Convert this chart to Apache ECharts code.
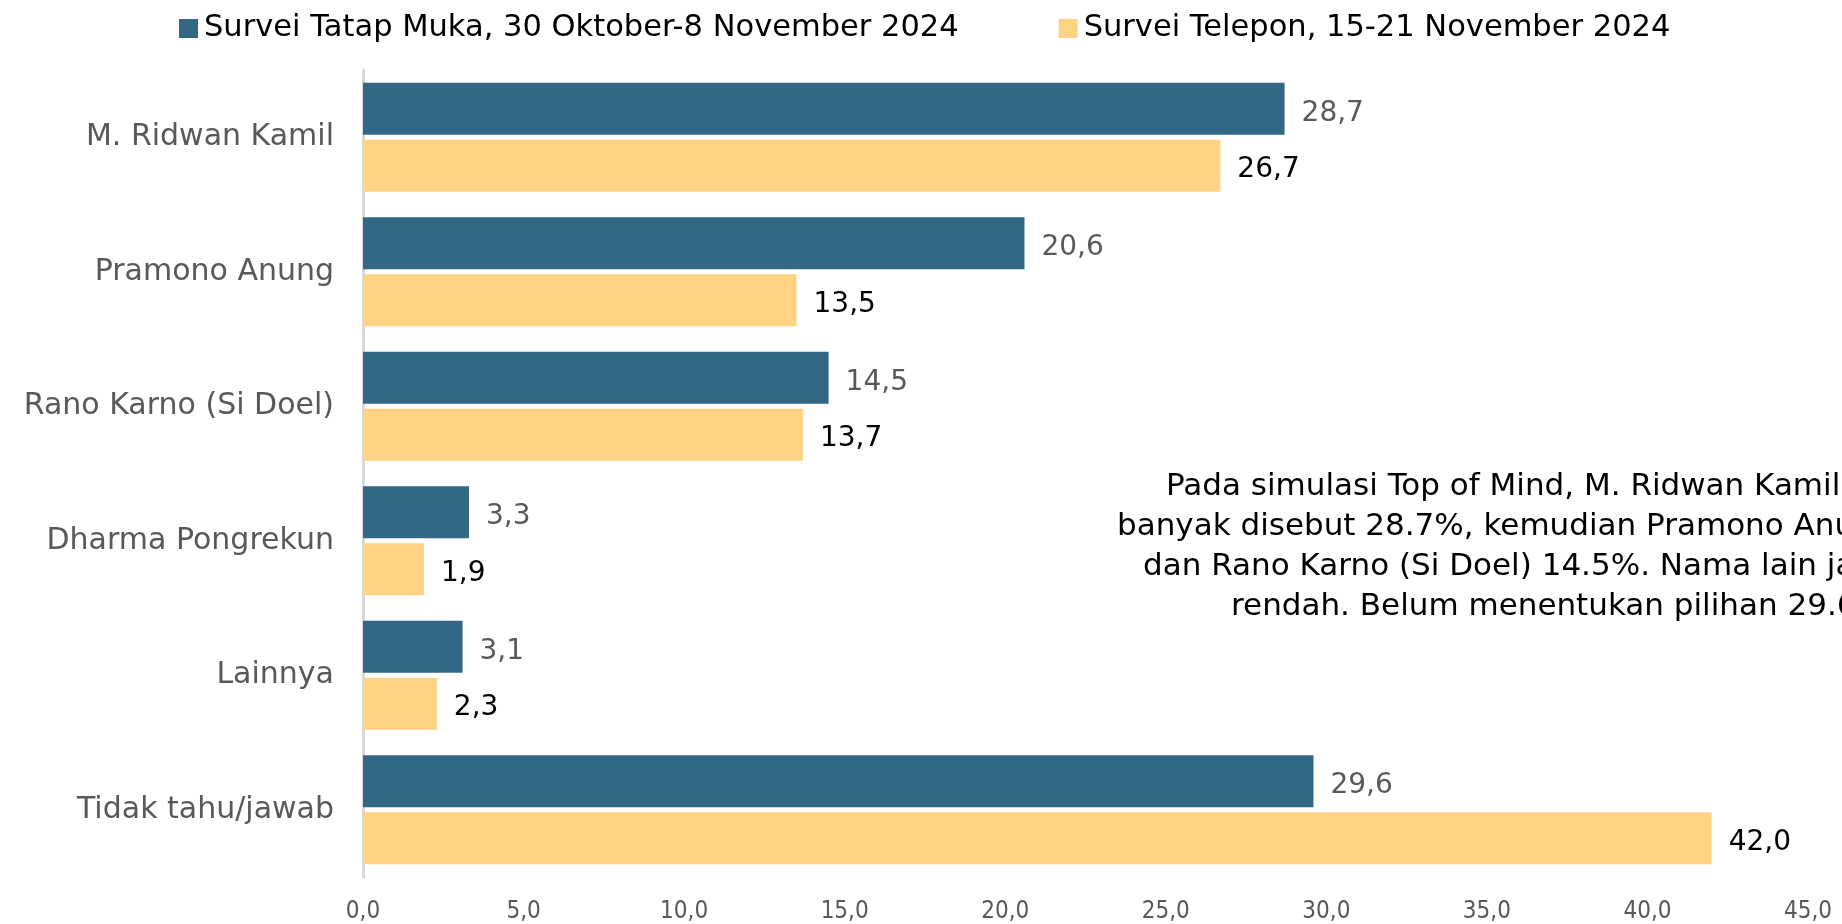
<!DOCTYPE html>
<html>
<head>
<meta charset="utf-8">
<script src="https://cdn.jsdelivr.net/npm/echarts@6/dist/echarts.min.js"></script>
<style>
  html, body { margin: 0; padding: 0; background: #fff; }
  #chart { width: 1842px; height: 924px; }
</style>
</head>
<body>
<div id="chart"></div>
<script>
var FONT = "DejaVu Sans";
var NARROW = '"DejaVu Sans Condensed", Roboto, sans-serif';

// data
var categories = ["M. Ridwan Kamil", "Pramono Anung", "Rano Karno (Si Doel)", "Dharma Pongrekun", "Lainnya", "Tidak tahu/jawab"];
var seriesNames = ["Survei Tatap Muka, 30 Oktober-8 November 2024", "Survei Telepon, 15-21 November 2024"];
var tatapMuka = [28.7, 20.6, 14.5, 3.3, 3.1, 29.6];
var telepon = [26.7, 13.5, 13.7, 1.9, 2.3, 42.0];
var noteLines = [
    "Pada simulasi Top of Mind, M. Ridwan Kamil",
    "banyak disebut 28.7%, kemudian Pramono Anung",
    "dan Rano Karno (Si Doel) 14.5%. Nama lain jauh",
    "rendah. Belum menentukan pilihan 29.6%."
];

function koma(v) {
    return Number(v).toFixed(1).replace('.', ',');
}

// note box is cut by the right edge in the original, lines kept left aligned where they start
var noteLeft = [1166, 1117, 1143, 1231];
var noteGraphics = noteLines.map(function(t, i) {
    return {
        type: 'text',
        left: noteLeft[i],
        top: 471 + i * 40,
        style: { text: t, fill: '#000', font: '31px "' + FONT + '"' }
    };
});

var myChart = echarts.init(document.getElementById('chart'));
var option = {
    animation: false,
    backgroundColor: '#fff',
    legend: {
        left: 174,
        top: 8,
        itemWidth: 19,
        itemHeight: 19,
        itemGap: 100,
        icon: 'rect',
        textStyle: { fontFamily: FONT, fontSize: 30.5, color: '#000', padding: [0, 0, 0, 1] },
        data: seriesNames
    },
    grid: { left: 363, right: 34, top: 70, bottom: 47 },
    xAxis: {
        type: 'value',
        min: 0,
        max: 45,
        interval: 5,
        axisLine: { show: false },
        axisTick: { show: false },
        splitLine: { show: false },
        axisLabel: {
            color: '#595959',
            fontFamily: NARROW,
            fontSize: 24,
            margin: 23,
            formatter: koma
        }
    },
    yAxis: {
        type: 'category',
        inverse: true,
        data: categories,
        axisLine: { lineStyle: { color: '#d9d9d9', width: 3 } },
        axisTick: { show: false },
        axisLabel: {
            color: '#595959',
            fontFamily: FONT,
            fontSize: 30,
            margin: 29
        }
    },
    series: [
        {
            name: seriesNames[0],
            type: 'bar',
            data: tatapMuka,
            barGap: '10%',
            barCategoryGap: '19%',
            itemStyle: { color: '#326886' },
            label: {
                show: true,
                position: 'right',
                distance: 17,
                offset: [0, 5],
                color: '#595959',
                fontFamily: FONT,
                fontSize: 28,
                formatter: function(p) { return koma(p.value); }
            }
        },
        {
            name: seriesNames[1],
            type: 'bar',
            data: telepon,
            barGap: '10%',
            barCategoryGap: '19%',
            itemStyle: { color: '#fed384' },
            label: {
                show: true,
                position: 'right',
                distance: 17,
                offset: [0, 4],
                color: '#000',
                fontFamily: FONT,
                fontSize: 28,
                formatter: function(p) { return koma(p.value); }
            }
        }
    ],
    graphic: noteGraphics
};
myChart.setOption(option);
</script>
</body>
</html>
